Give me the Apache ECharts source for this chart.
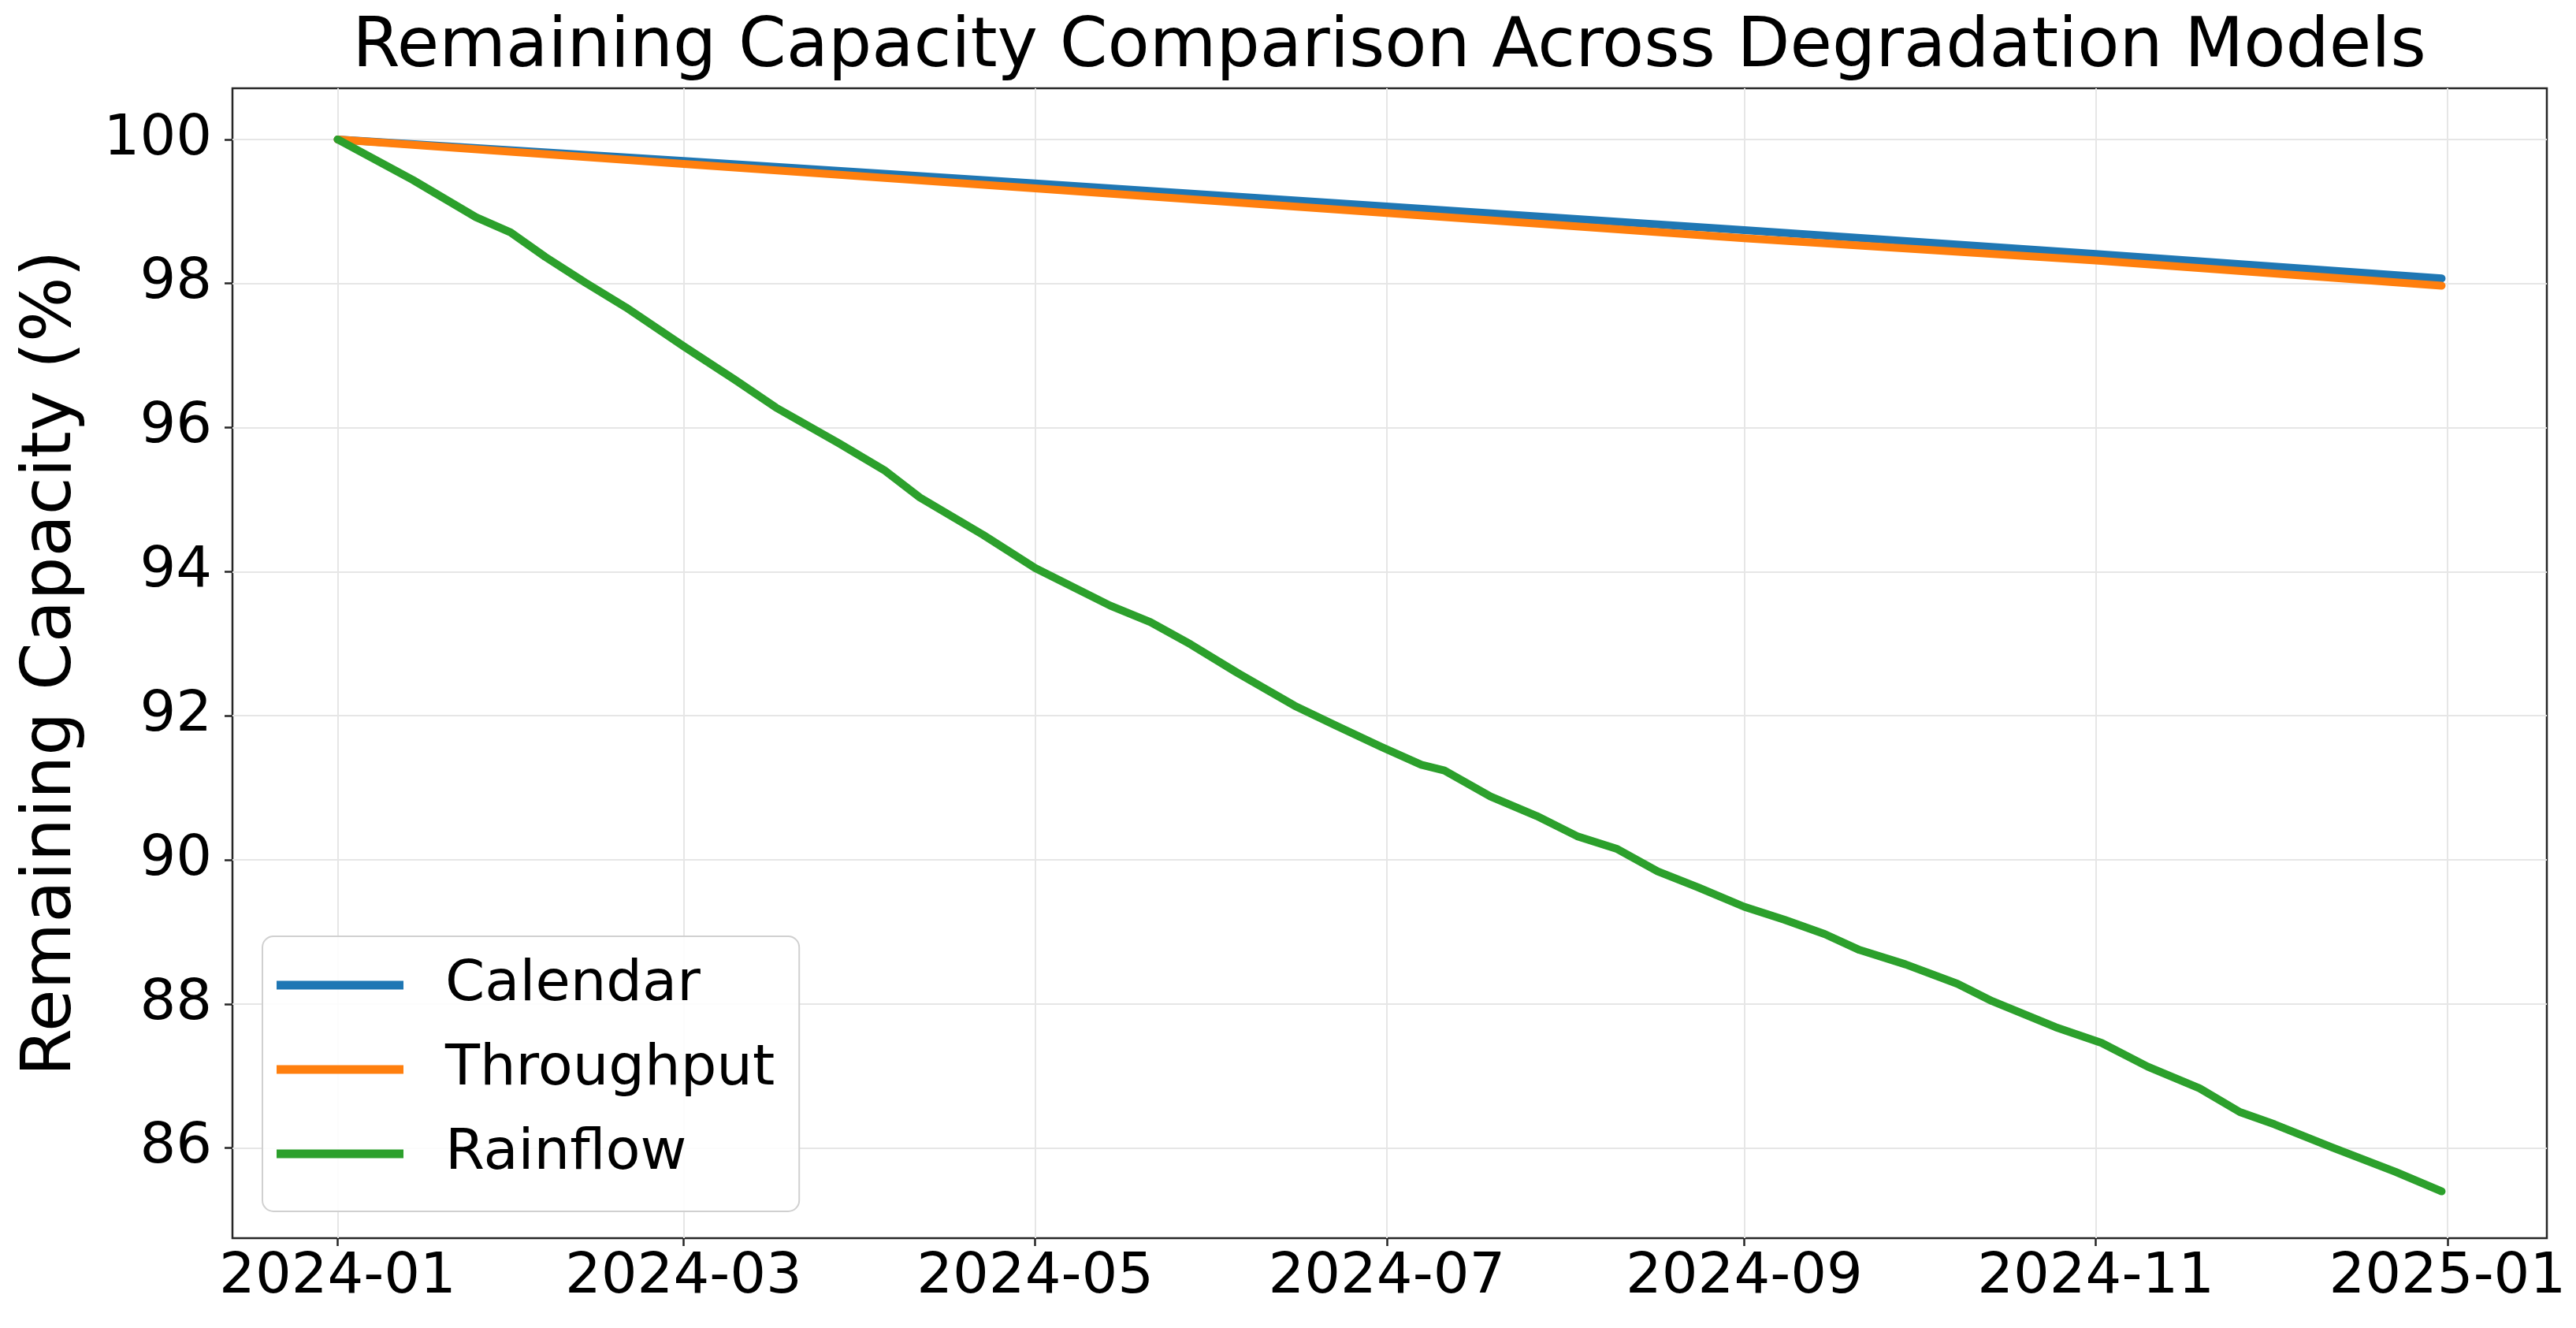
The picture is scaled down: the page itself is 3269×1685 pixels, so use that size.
<!DOCTYPE html>
<html>
<head>
<meta charset="utf-8">
<script src="https://cdn.jsdelivr.net/npm/echarts@6/dist/echarts.min.js"></script>
<style>
html,body{margin:0;padding:0;background:#ffffff;}
#chart{width:3269px;height:1685px;}
</style>
</head>
<body>
<div id="chart"></div>
<script>
// ---------------- data ----------------
const titleText = 'Remaining Capacity Comparison Across Degradation Models';
const yAxisTitle = 'Remaining Capacity (%)';
const seriesNames = ['Calendar', 'Throughput', 'Rainflow'];
const seriesColors = ['#1f77b4', '#ff7f0e', '#2ca02c'];

const calendarDates = ['2024-01-01','2024-03-01','2024-05-01','2024-07-01','2024-09-01','2024-11-01','2024-12-31'];
const calendarValues = [100.00, 99.70, 99.39, 99.07, 98.74, 98.41, 98.07];

const throughputDates = ['2024-01-01','2024-03-01','2024-05-01','2024-07-01','2024-09-01','2024-11-01','2024-12-31'];
const throughputValues = [100.00, 99.66, 99.32, 98.98, 98.63, 98.32, 97.97];

const rainflowDates = ['2024-01-01','2024-01-14','2024-01-25','2024-01-31','2024-02-06','2024-02-13','2024-02-20',
  '2024-03-01','2024-03-10','2024-03-17','2024-03-28','2024-04-05','2024-04-11','2024-04-22',
  '2024-05-01','2024-05-14','2024-05-21','2024-05-28','2024-06-05','2024-06-15','2024-06-22','2024-06-30',
  '2024-07-07','2024-07-11','2024-07-19','2024-07-27','2024-08-03','2024-08-10','2024-08-17','2024-08-24',
  '2024-09-01','2024-09-08','2024-09-15','2024-09-21','2024-09-29','2024-10-08','2024-10-14','2024-10-25',
  '2024-11-02','2024-11-10','2024-11-19','2024-11-26','2024-12-02','2024-12-12','2024-12-23','2024-12-31'];
const rainflowValues = [100.00, 99.44, 98.92, 98.71, 98.37, 98.01, 97.67,
  97.13, 96.66, 96.28, 95.78, 95.40, 95.03, 94.51,
  94.05, 93.53, 93.30, 92.99, 92.60, 92.14, 91.87, 91.57,
  91.32, 91.24, 90.88, 90.61, 90.33, 90.15, 89.84, 89.62,
  89.35, 89.17, 88.97, 88.75, 88.55, 88.28, 88.04, 87.68,
  87.46, 87.13, 86.83, 86.50, 86.33, 86.01, 85.67, 85.40];

const xTickLabels = ['2024-01','2024-03','2024-05','2024-07','2024-09','2024-11','2025-01'];
const yTickValues = [86, 88, 90, 92, 94, 96, 98, 100];
const yMin = 84.75, yMax = 100.71;
const xMarginDays = 18.25;

// ---------------- helpers ----------------
const DAY = 86400000;
function ts(s) {
  const p = s.split('-').map(Number);
  return new Date(p[0], p[1] - 1, p[2] || 1).getTime();
}
function pairs(dates, vals) { return dates.map((d, i) => [ts(d), vals[i]]); }
function fmtMonth(v) {
  const d = new Date(Math.round(v));
  const m = d.getMonth() + 1;
  return d.getFullYear() + '-' + (m < 10 ? '0' + m : m);
}

const xMin = ts(calendarDates[0]) - xMarginDays * DAY;
const xMax = ts(calendarDates[calendarDates.length - 1]) + xMarginDays * DAY;
const xTickValues = xTickLabels.map(ts);

const FONT = 'DejaVu Sans';
const axisColor = '#262626';
const gridColor = '#e6e6e6';

const dataSets = [
  pairs(calendarDates, calendarValues),
  pairs(throughputDates, throughputValues),
  pairs(rainflowDates, rainflowValues)
];

const chart = echarts.init(document.getElementById('chart'), null, {renderer: 'canvas'});
chart.setOption({
  animation: false,
  backgroundColor: '#ffffff',
  title: {
    text: titleText,
    left: 1763,
    top: 61,
    padding: 0,
    textAlign: 'center',
    textVerticalAlign: 'middle',
    textStyle: {fontFamily: FONT, fontSize: 87, fontWeight: 'normal', color: '#000000'}
  },
  grid: {
    left: 295, right: 37, top: 112, bottom: 114,
    show: true, borderColor: axisColor, borderWidth: 2.5, backgroundColor: 'transparent',
    containLabel: false
  },
  legend: {
    orient: 'vertical',
    left: 333, top: 1188,
    padding: [22, 31, 33, 18],
    itemWidth: 161, itemHeight: 11, itemGap: 27,
    icon: 'rect',
    data: seriesNames,
    backgroundColor: 'rgba(255,255,255,0.85)',
    borderColor: '#d0d0d0', borderWidth: 2, borderRadius: 14,
    textStyle: {fontFamily: FONT, fontSize: 72, lineHeight: 80, color: '#000000', padding: [0, 0, 0, 48]}
  },
  xAxis: {
    type: 'value',
    min: xMin, max: xMax,
    axisLine: {show: false},
    axisTick: {show: true, length: 10, inside: false, customValues: xTickValues,
      lineStyle: {color: axisColor, width: 2.5}},
    axisLabel: {show: true, customValues: xTickValues, margin: 14, formatter: fmtMonth,
      fontFamily: FONT, fontSize: 72, color: '#000000', hideOverlap: false},
    splitLine: {show: true, lineStyle: {color: gridColor, width: 2}}
  },
  yAxis: {
    type: 'value',
    min: yMin, max: yMax,
    name: yAxisTitle,
    nameLocation: 'middle',
    nameRotate: 90,
    nameGap: 185,
    nameTextStyle: {fontFamily: FONT, fontSize: 87, color: '#000000'},
    axisLine: {show: false},
    axisTick: {show: true, length: 10, inside: false, customValues: yTickValues,
      lineStyle: {color: axisColor, width: 2.5}},
    axisLabel: {show: true, customValues: yTickValues, margin: 26,
      fontFamily: FONT, fontSize: 72, color: '#000000'},
    splitLine: {show: true, lineStyle: {color: gridColor, width: 2}}
  },
  series: seriesNames.map((name, i) => ({
    name: name,
    type: 'line',
    data: dataSets[i],
    showSymbol: false,
    symbol: 'none',
    smooth: false,
    color: seriesColors[i],
    lineStyle: {color: seriesColors[i], width: 10, cap: 'round', join: 'round'},
    z: 2 + i
  }))
});
</script>
</body>
</html>
